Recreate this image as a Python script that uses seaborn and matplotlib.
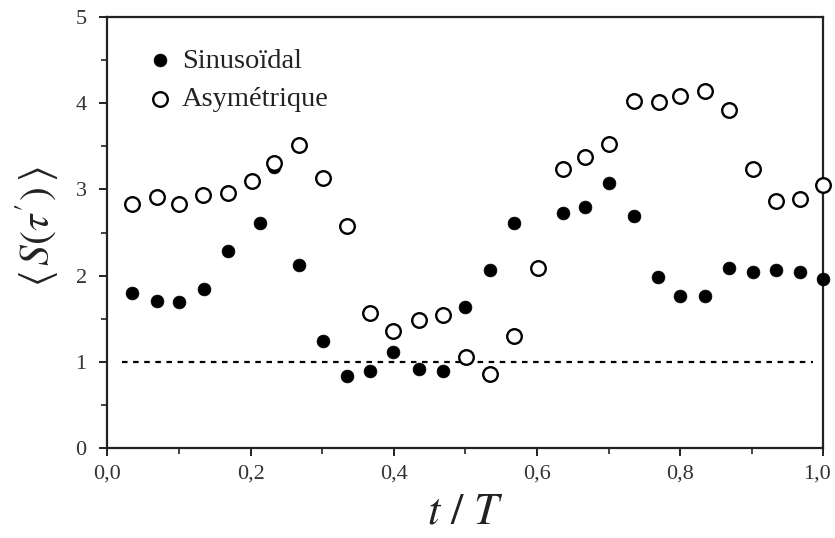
import matplotlib
matplotlib.use("Agg")
import matplotlib.pyplot as plt
import matplotlib.transforms as mtransforms
import seaborn as sns
import pandas as pd
from matplotlib.ticker import MultipleLocator, FuncFormatter

# ---- data ----
sin_x = [0.034, 0.069, 0.100, 0.135, 0.168, 0.213, 0.233, 0.267, 0.301, 0.335,
         0.367, 0.399, 0.435, 0.469, 0.500, 0.534, 0.568, 0.636, 0.667, 0.701,
         0.735, 0.769, 0.800, 0.835, 0.868, 0.902, 0.934, 0.968, 1.000]
sin_y = [1.80, 1.71, 1.69, 1.84, 2.29, 2.61, 3.26, 2.12, 1.24, 0.84,
         0.89, 1.11, 0.92, 0.89, 1.63, 2.06, 2.61, 2.73, 2.80, 3.08,
         2.69, 1.98, 1.76, 1.76, 2.09, 2.04, 2.06, 2.04, 1.96]

asym_x = [0.034, 0.069, 0.100, 0.133, 0.168, 0.202, 0.233, 0.267, 0.301, 0.335,
          0.367, 0.399, 0.435, 0.469, 0.501, 0.534, 0.568, 0.601, 0.636, 0.667,
          0.701, 0.735, 0.770, 0.800, 0.835, 0.868, 0.902, 0.934, 0.968, 1.000]
asym_y = [2.83, 2.91, 2.83, 2.94, 2.96, 3.10, 3.31, 3.52, 3.13, 2.58,
          1.57, 1.36, 1.49, 1.54, 1.06, 0.86, 1.30, 2.09, 3.24, 3.38,
          3.53, 4.03, 4.01, 4.08, 4.14, 3.92, 3.24, 2.86, 2.89, 3.05]

ref_level = 1.0
ref_xmin, ref_xmax = 0.02, 0.985

labels = ["Sinusoïdal", "Asymétrique"]
x_ticks = [0.0, 0.2, 0.4, 0.6, 0.8, 1.0]
y_ticks = [0, 1, 2, 3, 4, 5]

df_sin = pd.DataFrame({"x": sin_x, "y": sin_y})
df_asym = pd.DataFrame({"x": asym_x, "y": asym_y})

sns.set_theme(style="ticks")
plt.rcParams["font.family"] = ["Liberation Serif", "DejaVu Serif"]
plt.rcParams["mathtext.fontset"] = "stix"

fig = plt.figure(figsize=(8.35, 5.38), dpi=100)
ax = fig.add_axes([107.5 / 835, 90 / 538, (823.3 - 107.5) / 835, (448 - 17) / 538])

ax.hlines(ref_level, ref_xmin, ref_xmax, colors="black", linestyles=(0, (2.5, 2.5)),
          linewidth=1.6, zorder=1)

sns.scatterplot(data=df_sin, x="x", y="y", ax=ax, s=85, color="black",
                edgecolor="black", linewidth=0.5, label=labels[0],
                clip_on=False, zorder=5)
sns.scatterplot(data=df_asym, x="x", y="y", ax=ax, s=110, color="black",
                facecolor="white", edgecolor="black", linewidth=1.7,
                label=labels[1], clip_on=False, zorder=6)

ax.set_xlim(0, 1.0)
ax.set_ylim(0, 5)
ax.set_xticks(x_ticks)
ax.set_yticks(y_ticks)
ax.xaxis.set_minor_locator(MultipleLocator(0.1))
ax.yaxis.set_minor_locator(MultipleLocator(0.5))
ax.xaxis.set_major_formatter(FuncFormatter(lambda v, p: f"{v:.1f}".replace(".", ",")))
ax.yaxis.set_major_formatter(FuncFormatter(lambda v, p: f"{v:.0f}"))

for s in ax.spines.values():
    s.set_linewidth(1.6)
    s.set_color("#222222")
    s.set_visible(True)

ax.tick_params(which="major", direction="out", length=6, width=1.4,
               labelsize=16, colors="#222222", pad=6)
ax.tick_params(axis="y", which="major", pad=9)
ax.tick_params(which="minor", direction="out", length=4, width=1.2, colors="#222222")
for lab in ax.get_xticklabels() + ax.get_yticklabels():
    lab.set_color("#333333")

# nudge the last x tick label slightly left so it stays inside the figure
fig.canvas.draw()
last = ax.get_xticklabels()[-1]
last.set_transform(last.get_transform() +
                   mtransforms.ScaledTranslation(-6 / 100, 0, fig.dpi_scale_trans))

ax.set_xlabel("")
ax.set_ylabel("")

fig.text(465 / 835, 1 - 513 / 538, r"$t\ /\ T$", ha="center", va="center",
         fontsize=32, color="#222222")
fig.text(37.5 / 835, 1 - 227 / 538, r"$\left\langle\, S(\tau')\, \right\rangle$",
         ha="center", va="center", rotation=90, fontsize=30, color="#222222")

leg = ax.legend(loc="upper left", bbox_to_anchor=(0.030, 0.962), frameon=False,
                fontsize=20.5, handletextpad=0.15, labelspacing=0.45,
                borderpad=0, handlelength=1.2)
for t in leg.get_texts():
    t.set_color("#222222")

fig.savefig("out.png", dpi=100)
